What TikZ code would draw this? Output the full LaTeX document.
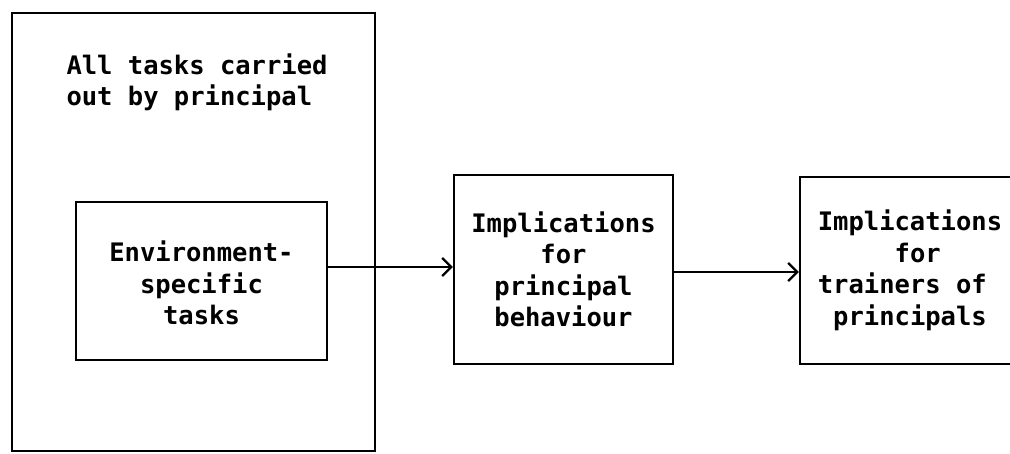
\documentclass[tikz,border=0pt]{standalone}
\usepackage{fontspec}
\setmonofont{DejaVu Sans Mono}
\usetikzlibrary{arrows.meta}
\begin{document}
\begin{tikzpicture}[x=1pt,y=-1pt,
  box/.style={draw, line width=2.2pt, inner sep=0pt},
  lbl/.style={font=\ttfamily\bfseries\fontsize{25.5}{31.5}\selectfont, align=center},
  arr/.style={-{Straight Barb[length=9pt,width=18pt,line width=2.4pt]}, line width=2pt}]
\useasboundingbox (0,0) rectangle (1010,454);
\fill[white] (0,0) rectangle (1010,454);
\begin{scope}
\clip (0,0) rectangle (1010,454);
\node[box, minimum width=363pt, minimum height=438pt] (outer) at (193.5,232) {};
\node[lbl, align=left, anchor=base west] (outerlbl) at (63,106) {All tasks carried\\out by principal};
\node[box, minimum width=251pt, minimum height=158pt] (env) at (201.5,281) {};
\node[lbl, anchor=base] (envtxt) at (201.5,325) {Environment-\\specific\\tasks};
\node[box, lbl, minimum width=219pt, minimum height=189pt] (mid) at (563.5,269.5) {Implications\\for\\principal\\behaviour};
\node[box, lbl, align=left, minimum width=220pt, minimum height=187pt] (right) at (910,270.5) {Implications\\\phantom{xxxxx}for\\trainers of\\\phantom{x}principals};
\coordinate (ya) at (0,267);
\coordinate (yb) at (0,272);
\draw[arr] (env.east |- ya) -- (mid.west |- ya);
\draw[arr] (mid.east |- yb) -- (right.west |- yb);
\end{scope}
\end{tikzpicture}
\end{document}
